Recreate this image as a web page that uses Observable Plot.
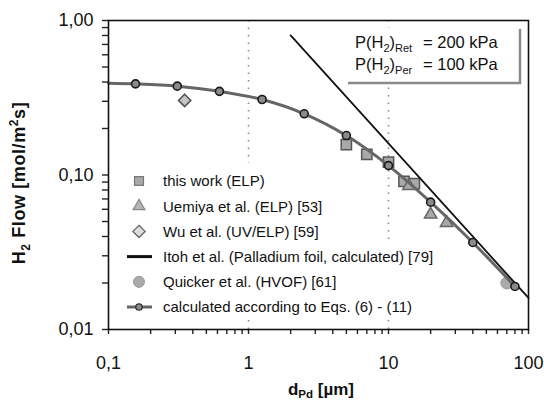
<!DOCTYPE html>
<html><head><meta charset="utf-8">
<script src="https://cdn.jsdelivr.net/npm/d3@7"></script>
<script src="https://cdn.jsdelivr.net/npm/@observablehq/plot@0.6"></script>
<style>
body{margin:0;background:#fff}
svg{font-family:"Liberation Sans",Arial,Helvetica,sans-serif}
</style>
</head><body><div id="chart"></div>
<script>
// calculated according to Eqs. (6)-(11)
const calcX = [0.156, 0.31, 0.62, 1.25, 2.5, 5, 10, 20, 40, 80];
const calcY = [0.389, 0.376, 0.348, 0.308, 0.249, 0.180, 0.115, 0.0667, 0.0366, 0.019];
const calcStartX = 0.1, calcStartY = 0.393;
// this work (ELP)
const thisWorkX = [5.0, 7.0, 10.0, 12.9, 15.3];
const thisWorkY = [0.157, 0.136, 0.121, 0.091, 0.088];
// Uemiya et al. (ELP) [53]
const uemiyaX = [14, 20, 26];
const uemiyaY = [0.085, 0.0555, 0.049];
// Wu et al. (UV/ELP) [59]
const wuX = [0.35];
const wuY = [0.304];
// Itoh et al. (Palladium foil, calculated) [79]
const itohX = [2, 100];
const itohY = [0.8, 0.016];
// Quicker et al. (HVOF) [61]
const quickerX = [70];
const quickerY = [0.020];

const xMajor = [0.1, 1, 10, 100];
const xTickLabels = ["0,1", "1", "10", "100"];
const xMinor = [0.2,0.3,0.4,0.5,0.6,0.7,0.8,0.9,2,3,4,5,6,7,8,9,20,30,40,50,60,70,80,90];
const yMajor = [0.01, 0.1, 1];
const yTickLabels = ["0,01", "0,10", "1,00"];
const yMinor = [0.02,0.03,0.04,0.05,0.06,0.07,0.08,0.09,0.2,0.3,0.4,0.5,0.6,0.7,0.8,0.9];
const refLines = [1, 10];

const legendLabels = [
  "this work (ELP)",
  "Uemiya et al. (ELP) [53]",
  "Wu et al. (UV/ELP) [59]",
  "Itoh et al. (Palladium foil, calculated) [79]",
  "Quicker et al. (HVOF) [61]",
  "calculated according to Eqs. (6) - (11)"
];

const pts = (xs, ys) => xs.map((x, i) => ({x, y: ys[i]}));
const calcPts = pts(calcX, calcY);
const calcLine = [{x: calcStartX, y: calcStartY}, ...calcPts];
const xLab = new Map(xMajor.map((d, i) => [d, xTickLabels[i]]));
const yLab = new Map(yMajor.map((d, i) => [d, yTickLabels[i]]));

const plot = Plot.plot({
  width: 544, height: 400,
  marginLeft: 108, marginRight: 16, marginTop: 20, marginBottom: 71,
  x: {type: "log", domain: [0.1, 100]},
  y: {type: "log", domain: [0.01, 1]},
  style: {fontFamily: "Liberation Sans, Arial, sans-serif", fontSize: "18px", color: "#111", background: "#fff"},
  marks: [
    Plot.ruleX(refLines, {stroke: "#888", strokeWidth: 1.5, strokeDasharray: "1.5,6"}),
    Plot.axisY({ticks: [...yMajor, ...yMinor], tickSize: 6, tickPadding: 9, tickFormat: d => yLab.get(d) ?? "", label: null, fontSize: 18, stroke: "#222", strokeWidth: 1.4}),
    Plot.axisX({ticks: [...xMajor, ...xMinor], tickSize: 5, tickPadding: 22, tickFormat: d => xLab.get(d) ?? "", label: null, fontSize: 18, stroke: "#222", strokeWidth: 1.4}),
    Plot.dot(pts(thisWorkX, thisWorkY), {x: "x", y: "y", symbol: "square", r: 5.8, fill: "#a9a9a9", stroke: "#555", strokeWidth: 1.5}),
    Plot.dot(pts(uemiyaX, uemiyaY), {x: "x", y: "y", symbol: "triangle", r: 4.6, fill: "#a9a9a9", stroke: "#666", strokeWidth: 1.5}),
    Plot.dot(pts(wuX, wuY), {x: "x", y: "y", symbol: "diamond2", r: 5.6, fill: "#c4c4c4", stroke: "#555", strokeWidth: 1.5}),
    Plot.dot(pts(quickerX, quickerY), {x: "x", y: "y", r: 6, fill: "#aaa", stroke: "#999", strokeWidth: 1}),
    Plot.line(pts(itohX, itohY), {x: "x", y: "y", stroke: "#111", strokeWidth: 1.8}),
    Plot.line(calcLine, {x: "x", y: "y", curve: "catmull-rom", stroke: "#666", strokeWidth: 3}),
    Plot.dot(calcPts, {x: "x", y: "y", r: 4, fill: "#8a8a8a", stroke: "#1a1a1a", strokeWidth: 1.6}),
    Plot.frame({stroke: "#111", strokeWidth: 1.6})
  ]
});
document.getElementById("chart").appendChild(plot);

const svg = d3.select(plot);
const font = "Liberation Sans, Arial, sans-serif";

// legend background (hides the dotted reference lines)
svg.append("rect").attr("x", 120).attr("y", 163).attr("width", 210).attr("height", 157).attr("fill", "#fff");
svg.append("rect").attr("x", 120).attr("y", 244).attr("width", 325).attr("height", 76).attr("fill", "#fff");

// legend
const lg = svg.append("g").attr("font-family", font).attr("font-size", 15).attr("fill", "#111").attr("text-anchor", "start");
const rowY = i => 181 + i * 25.2;
const sx = 139;
const sym = (type, size) => d3.symbol(type, size)();
lg.append("path").attr("d", sym(d3.symbolSquare, 80)).attr("transform", `translate(${sx},${rowY(0)})`).attr("fill", "#a9a9a9").attr("stroke", "#777").attr("stroke-width", 1.2);
lg.append("path").attr("d", sym(d3.symbolTriangle, 60)).attr("transform", `translate(${sx},${rowY(1)})`).attr("fill", "#b5b5b5").attr("stroke", "#888").attr("stroke-width", 1.2);
lg.append("path").attr("d", sym(d3.symbolDiamond2, 95)).attr("transform", `translate(${sx},${rowY(2)})`).attr("fill", "#ddd").attr("stroke", "#666").attr("stroke-width", 1.3);
lg.append("line").attr("x1", 127).attr("x2", 152).attr("y1", rowY(3)).attr("y2", rowY(3)).attr("stroke", "#111").attr("stroke-width", 3);
lg.append("circle").attr("cx", sx).attr("cy", rowY(4)).attr("r", 5.5).attr("fill", "#aaa").attr("stroke", "#999");
lg.append("line").attr("x1", 127).attr("x2", 152).attr("y1", rowY(5)).attr("y2", rowY(5)).attr("stroke", "#666").attr("stroke-width", 3);
lg.append("circle").attr("cx", sx).attr("cy", rowY(5)).attr("r", 3.2).attr("fill", "#8a8a8a").attr("stroke", "#333").attr("stroke-width", 1.3);
legendLabels.forEach((t, i) => {
  lg.append("text").attr("x", 163).attr("y", rowY(i)).attr("dy", "0.36em").text(t);
});

// annotation box
svg.append("rect").attr("x", 348).attr("y", 28).attr("width", 172).attr("height", 55).attr("fill", "#fff");
svg.append("path").attr("d", "M520,29V83H348").attr("fill", "none").attr("stroke", "#8a8a8a").attr("stroke-width", 2.5);
const ann = svg.append("g").attr("font-family", font).attr("font-size", 16.5).attr("fill", "#111").attr("text-anchor", "start");
[["Ret", "= 200 kPa", 48], ["Per", "= 100 kPa", 70]].forEach(([s, v, y]) => {
  const t = ann.append("text").attr("x", 355).attr("y", y);
  t.append("tspan").text("P(H");
  t.append("tspan").attr("font-size", 11).attr("dy", 4).text("2");
  t.append("tspan").attr("dy", -4).text(")");
  t.append("tspan").attr("font-size", 11).attr("dy", 4).text(s);
  ann.append("text").attr("x", 423).attr("y", y).text(v);
});

// y axis title
const yt = svg.append("text").attr("transform", "translate(25,183) rotate(-90)")
  .attr("text-anchor", "middle").attr("font-family", font).attr("font-weight", "bold")
  .attr("font-size", 18).attr("letter-spacing", 0.6).attr("fill", "#111");
yt.append("tspan").text("H");
yt.append("tspan").attr("font-size", 12).attr("dy", 5).text("2");
yt.append("tspan").attr("dy", -5).text(" Flow [mol/m");
yt.append("tspan").attr("font-size", 12).attr("dy", -7).text("2");
yt.append("tspan").attr("dy", 7).text("s]");

// x axis title
const xt = svg.append("text").attr("x", 321).attr("y", 395)
  .attr("text-anchor", "middle").attr("font-family", font).attr("font-weight", "bold")
  .attr("font-size", 17).attr("fill", "#111");
xt.append("tspan").text("d");
xt.append("tspan").attr("font-size", 11.5).attr("dy", 3).text("Pd");
xt.append("tspan").attr("dy", -3).text(" [µm]");
</script>
</body></html>
